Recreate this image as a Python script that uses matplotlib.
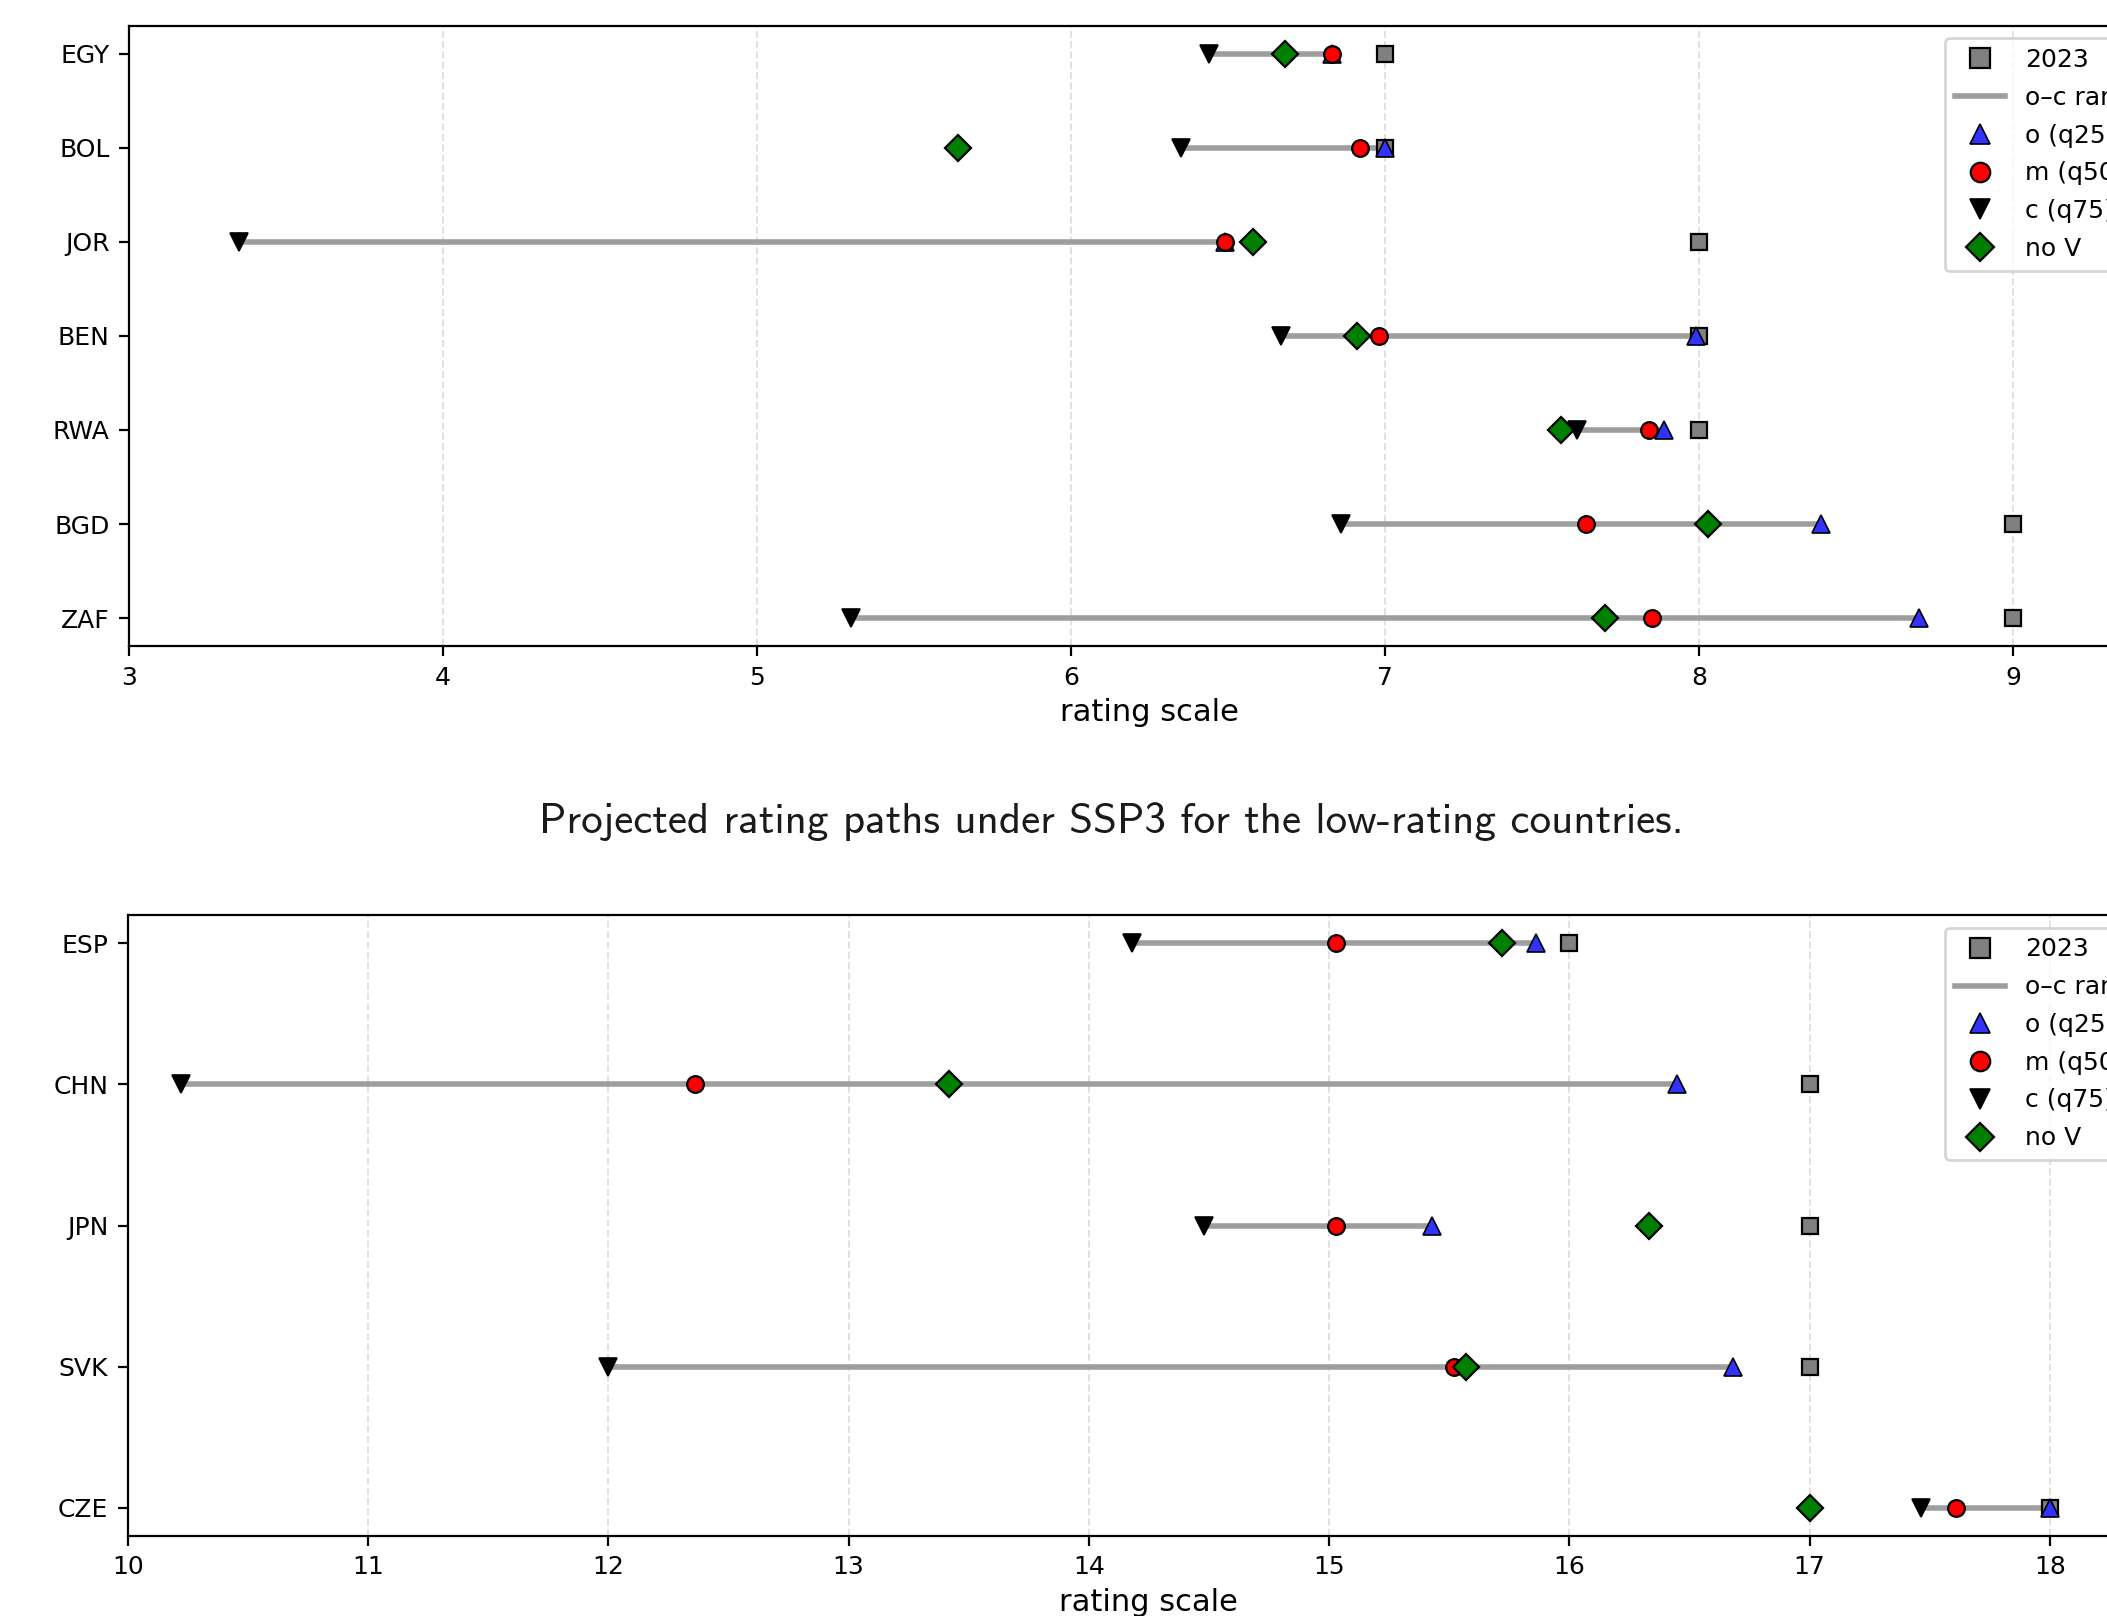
import numpy as np
import matplotlib
matplotlib.use("Agg")
import matplotlib.pyplot as plt
from matplotlib.lines import Line2D

plt.rcParams['font.size'] = 9

# low-rating panel
low_ctry = ["EGY", "BOL", "JOR", "BEN", "RWA", "BGD", "ZAF"]
low_2023 = [7.0, 7.0, 8.0, 8.0, 8.0, 9.0, 9.0]
low_o = [6.83, 7.0, 6.49, 7.99, 7.89, 8.39, 8.70]
low_m = [6.83, 6.92, 6.49, 6.98, 7.84, 7.64, 7.85]
low_c = [6.44, 6.35, 3.35, 6.67, 7.61, 6.86, 5.30]
low_nov = [6.68, 5.64, 6.58, 6.91, 7.56, 8.03, 7.70]

# high-rating panel
high_ctry = ["ESP", "CHN", "JPN", "SVK", "CZE"]
high_2023 = [16.0, 17.0, 17.0, 17.0, 18.0]
high_o = [15.86, 16.45, 15.43, 16.68, 18.0]
high_m = [15.03, 12.36, 15.03, 15.52, 17.61]
high_c = [14.18, 10.22, 14.48, 12.0, 17.465]
high_nov = [15.72, 13.42, 16.33, 15.57, 17.0]

caption = "Projected rating paths under SSP3 for the low-rating countries."

W, H = 2107, 1616
fig = plt.figure(figsize=(W / 200, H / 200), dpi=200)

ax1 = fig.add_axes([129 / W, 1 - 646.3 / H, (2170 - 129) / W, (646.3 - 25.5) / H])
ax2 = fig.add_axes([127.7 / W, 1 - 1536 / H, (2170 - 127.7) / W, (1536 - 915) / H])

line_col = '#9e9e9e'
blue = '#3333ff'


def draw(ax, ctry, y23, o, m, c, nov, xlim):
    y = np.arange(len(ctry))
    ax.hlines(y, c, o, color=line_col, lw=2, zorder=2)
    ax.plot(y23, y, 's', ms=6, mfc='gray', mec='black', mew=0.8, zorder=3)
    ax.plot(o, y, '^', ms=6.2, mfc=blue, mec='black', mew=0.6, zorder=4)
    ax.plot(m, y, 'o', ms=6, mfc='red', mec='black', mew=0.8, zorder=5)
    ax.plot(nov, y, 'D', ms=6.5, mfc='green', mec='black', mew=0.8, zorder=6)
    ax.plot(c, y, 'v', ms=6.2, mfc='black', mec='black', mew=0.6, zorder=7)
    ax.set_yticks(y)
    ax.set_yticklabels(ctry)
    ax.invert_yaxis()
    ax.set_xlim(*xlim)
    ax.grid(axis='x', linestyle='--', color='#cccccc', alpha=0.6, lw=0.7)
    ax.set_axisbelow(True)
    ax.set_xlabel("rating scale", fontsize=11, labelpad=3)

    handles = [
        Line2D([], [], ls='none', marker='s', ms=7, mfc='gray', mec='black', mew=0.8),
        Line2D([], [], color=line_col, lw=2),
        Line2D([], [], ls='none', marker='^', ms=7, mfc=blue, mec='black', mew=0.6),
        Line2D([], [], ls='none', marker='o', ms=7, mfc='red', mec='black', mew=0.8),
        Line2D([], [], ls='none', marker='v', ms=7, mfc='black', mec='black', mew=0.6),
        Line2D([], [], ls='none', marker='D', ms=7, mfc='green', mec='black', mew=0.8),
    ]
    labels = ["2023", "o\u2013c range", "o (q25)", "m (q50)", "c (q75)", "no V"]
    ax.legend(handles, labels, loc='upper right', labelspacing=0.55)


draw(ax1, low_ctry, low_2023, low_o, low_m, low_c, low_nov, (3, 9.5))
draw(ax2, high_ctry, high_2023, high_o, high_m, high_c, high_nov, (10, 18.5))

fig.text(1111 / W, 1 - 822 / H, caption, ha='center', va='center',
         fontsize=15.5, color='#1a1a1a', family=['cmss10', 'DejaVu Sans'])

fig.savefig("out.png", dpi=200)
